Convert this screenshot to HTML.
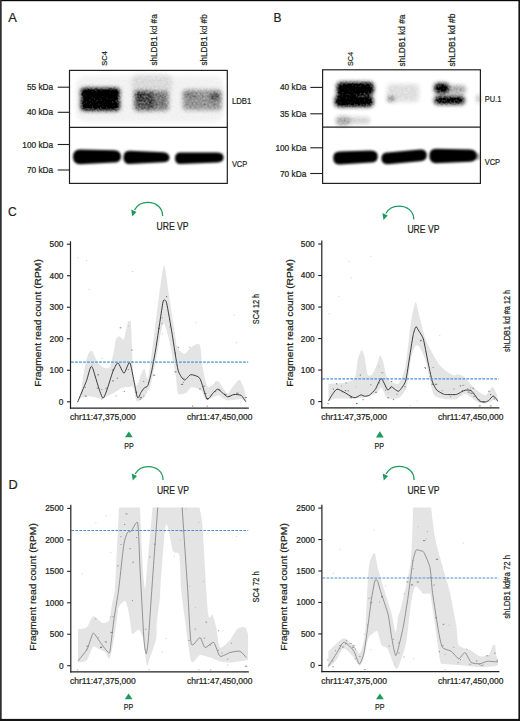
<!DOCTYPE html>
<html><head><meta charset="utf-8"><title>Figure</title>
<style>html,body{margin:0;padding:0;background:#fff;width:520px;height:721px;overflow:hidden}
svg text{font-family:"Liberation Sans", sans-serif}</style></head>
<body>
<svg width="520" height="721" viewBox="0 0 520 721" style="display:block;font-family:'Liberation Sans', sans-serif"><defs>
<filter id="b1" x="-30%" y="-60%" width="160%" height="220%"><feGaussianBlur stdDeviation="1.6"/></filter>
<filter id="b2" x="-30%" y="-60%" width="160%" height="220%"><feGaussianBlur stdDeviation="0.9"/></filter>
<filter id="b3" x="-30%" y="-60%" width="160%" height="220%"><feGaussianBlur stdDeviation="2.4"/></filter>
<filter id="g1" x="-30%" y="-60%" width="160%" height="220%" color-interpolation-filters="sRGB">
  <feGaussianBlur in="SourceGraphic" stdDeviation="2.0" result="b"/>
  <feTurbulence type="fractalNoise" baseFrequency="0.5" numOctaves="2" seed="7" result="n"/>
  <feColorMatrix in="n" type="matrix" values="0 0 0 0 0  0 0 0 0 0  0 0 0 0 0  1.1 0 0 0 -0.3" result="na"/>
  <feComposite in="b" in2="na" operator="arithmetic" k1="1.0" k2="0.97" k3="0" k4="0" result="c"/>
  <feGaussianBlur in="c" stdDeviation="0.45"/>
</filter>
<clipPath id="cp1"><rect x="70.5" y="241.3" width="178.3" height="166.89999999999998"/></clipPath><clipPath id="cp2"><rect x="321.8" y="240.6" width="177.59999999999997" height="167.29999999999998"/></clipPath><clipPath id="cp3"><rect x="70.8" y="507.5" width="178.0" height="164.29999999999995"/></clipPath><clipPath id="cp4"><rect x="321.9" y="507.5" width="177.5" height="164.10000000000002"/></clipPath></defs><rect width="520" height="721" fill="#fff"/><rect x="0" y="0" width="520" height="1.2" fill="#080808"/>
<rect x="0" y="0" width="1.7" height="721" fill="#2e2e2e"/>
<rect x="518.4" y="0" width="1.6" height="721" fill="#141414"/>
<rect x="0" y="718.9" width="520" height="2.1" fill="#141414"/>
<text x="8.3" y="21.7" font-size="13.5" text-anchor="start" fill="#231f20" textLength="8.6" lengthAdjust="spacingAndGlyphs" stroke="#231f20" stroke-width="0.22">A</text>
<text x="273.6" y="21.7" font-size="13.5" text-anchor="start" fill="#231f20" textLength="8.0" lengthAdjust="spacingAndGlyphs" stroke="#231f20" stroke-width="0.22">B</text>
<text x="8.1" y="216.3" font-size="13.5" text-anchor="start" fill="#231f20" textLength="8.6" lengthAdjust="spacingAndGlyphs" stroke="#231f20" stroke-width="0.22">C</text>
<text x="8.6" y="489.4" font-size="13.5" text-anchor="start" fill="#231f20" textLength="9.2" lengthAdjust="spacingAndGlyphs" stroke="#231f20" stroke-width="0.22">D</text>
<g filter="url(#g1)" fill="#000"><rect x="76" y="76" width="148" height="46" rx="10" opacity="0.045"/><rect x="132" y="74" width="40" height="20" rx="6" opacity="0.08"/><rect x="81" y="88.5" width="38.5" height="9" rx="3" opacity="1"/><rect x="81" y="97" width="38.5" height="13" rx="3" opacity="0.85"/><rect x="81" y="103" width="38.5" height="7.5" rx="3" opacity="0.6"/><rect x="134.5" y="91" width="18" height="19.5" rx="3" opacity="0.52"/><rect x="150" y="91.5" width="18.5" height="19" rx="3" opacity="0.40"/><rect x="135.5" y="91.5" width="9" height="9" rx="3" opacity="0.25"/><rect x="183" y="90" width="38.5" height="20" rx="3" opacity="0.31"/><rect x="183" y="91" width="14" height="8" rx="3" opacity="0.1"/><rect x="210" y="92.5" width="10" height="8" rx="3" opacity="0.3"/></g>
<g filter="url(#b2)" fill="#000"><path d="M80 149.4 L114 150.2 Q121 150.6 121 156.5 Q121 162.6 114 162.6 L80 164.2 Q73 164.2 73 157 Q73 149.4 80 149.4 Z"/><path d="M129.5 150.8 L163 152.2 Q169.5 152.8 169.5 157.8 Q169.5 162.2 163 162.2 L129.5 164.0 Q123.4 164.0 123.4 157.4 Q123.4 150.8 129.5 150.8 Z"/><path d="M180.5 152.4 L217.5 152.6 Q223.6 152.8 223.6 157.6 Q223.6 162.4 217.5 162.4 L180.5 164.0 Q175 164.0 175 158.2 Q175 152.4 180.5 152.4 Z"/></g>
<rect x="69.5" y="70.4" width="157.8" height="113.0" fill="none" stroke="#231f20" stroke-width="1.2"/>
<line x1="69.5" y1="127.3" x2="227.3" y2="127.3" stroke="#231f20" stroke-width="1.2"/>
<line x1="57.7" y1="87.2" x2="69.5" y2="87.2" stroke="#231f20" stroke-width="1.1"/>
<text x="53.2" y="90.2" font-size="8.3" text-anchor="end" fill="#231f20" stroke="#231f20" stroke-width="0.22">55 kDa</text>
<line x1="57.7" y1="112.3" x2="69.5" y2="112.3" stroke="#231f20" stroke-width="1.1"/>
<text x="53.2" y="115.3" font-size="8.3" text-anchor="end" fill="#231f20" stroke="#231f20" stroke-width="0.22">40 kDa</text>
<line x1="57.7" y1="144.5" x2="69.5" y2="144.5" stroke="#231f20" stroke-width="1.1"/>
<text x="53.2" y="147.5" font-size="8.3" text-anchor="end" fill="#231f20" stroke="#231f20" stroke-width="0.22">100 kDa</text>
<line x1="57.7" y1="170.0" x2="69.5" y2="170.0" stroke="#231f20" stroke-width="1.1"/>
<text x="53.2" y="173.0" font-size="8.3" text-anchor="end" fill="#231f20" stroke="#231f20" stroke-width="0.22">70 kDa</text>
<text x="231.9" y="104.3" font-size="8.8" text-anchor="start" fill="#231f20" textLength="19.3" lengthAdjust="spacingAndGlyphs" stroke="#231f20" stroke-width="0.22">LDB1</text>
<text x="231.9" y="166.9" font-size="8.8" text-anchor="start" fill="#231f20" textLength="15.3" lengthAdjust="spacingAndGlyphs" stroke="#231f20" stroke-width="0.22">VCP</text>
<text transform="translate(106.6,65.7) rotate(-90)" font-size="7.8" text-anchor="start" fill="#231f20" textLength="14.5" lengthAdjust="spacingAndGlyphs" stroke="#231f20" stroke-width="0.22">SC4</text>
<text transform="translate(156.8,65.6) rotate(-90)" font-size="8.6" text-anchor="start" fill="#231f20" textLength="51.3" lengthAdjust="spacingAndGlyphs" stroke="#231f20" stroke-width="0.22">shLDB1 kd #a</text>
<text transform="translate(207.3,65.6) rotate(-90)" font-size="8.6" text-anchor="start" fill="#231f20" textLength="51.3" lengthAdjust="spacingAndGlyphs" stroke="#231f20" stroke-width="0.22">shLDB1 kd #b</text>
<g filter="url(#g1)" fill="#000"><rect x="337" y="82.5" width="36.5" height="12" rx="4" opacity="0.95"/><rect x="335" y="96" width="38" height="10.5" rx="4" opacity="0.95"/><rect x="337" y="93" width="20" height="4" rx="2" opacity="0.6"/><rect x="336" y="116.5" width="14" height="9" rx="4" opacity="0.28"/><rect x="348" y="117" width="22" height="7" rx="3" opacity="0.14"/><rect x="387" y="84" width="32" height="18" rx="4" opacity="0.10"/><rect x="387.5" y="97" width="7" height="4" rx="2" opacity="0.45"/><rect x="434.5" y="83.5" width="14" height="9.5" rx="4" opacity="0.92"/><rect x="447" y="85.5" width="19" height="8" rx="4" opacity="0.28"/><rect x="434.5" y="96.5" width="30" height="7.5" rx="3.5" opacity="0.9"/><rect x="477" y="95" width="3" height="7" rx="1.5" opacity="0.3"/></g>
<g filter="url(#b2)" fill="#000"><path d="M340 151.6 L371 150.6 Q377.8 150.8 377.8 156.5 Q377.8 162.4 371 162.6 L340 164.6 Q333.2 164.6 333.2 158 Q333.2 151.6 340 151.6 Z"/><path d="M388 152.4 L420 149.4 Q426.8 149.2 426.8 155 Q426.8 160.8 420 161.2 L388 164.2 Q381.4 164.2 381.4 158.2 Q381.4 152.4 388 152.4 Z"/><path d="M436 148.8 L470 149.4 Q476.8 149.8 476.8 155.6 Q476.8 161.6 470 161.8 L436 163.2 Q429.4 163.0 429.4 156 Q429.4 148.8 436 148.8 Z"/><rect x="474" y="153" width="6" height="7" rx="3" opacity="0.35"/></g>
<rect x="322.6" y="69.8" width="157.79999999999995" height="113.60000000000001" fill="none" stroke="#231f20" stroke-width="1.2"/>
<line x1="322.6" y1="127.2" x2="480.4" y2="127.2" stroke="#231f20" stroke-width="1.2"/>
<line x1="310.3" y1="87.4" x2="322.6" y2="87.4" stroke="#231f20" stroke-width="1.1"/>
<text x="306.3" y="90.4" font-size="8.3" text-anchor="end" fill="#231f20" stroke="#231f20" stroke-width="0.22">40 kDa</text>
<line x1="310.3" y1="113.8" x2="322.6" y2="113.8" stroke="#231f20" stroke-width="1.1"/>
<text x="306.3" y="116.8" font-size="8.3" text-anchor="end" fill="#231f20" stroke="#231f20" stroke-width="0.22">35 kDa</text>
<line x1="310.3" y1="147.8" x2="322.6" y2="147.8" stroke="#231f20" stroke-width="1.1"/>
<text x="306.3" y="150.8" font-size="8.3" text-anchor="end" fill="#231f20" stroke="#231f20" stroke-width="0.22">100 kDa</text>
<line x1="310.3" y1="173.5" x2="322.6" y2="173.5" stroke="#231f20" stroke-width="1.1"/>
<text x="306.3" y="176.5" font-size="8.3" text-anchor="end" fill="#231f20" stroke="#231f20" stroke-width="0.22">70 kDa</text>
<text x="484.7" y="101.6" font-size="8.8" text-anchor="start" fill="#231f20" textLength="16.6" lengthAdjust="spacingAndGlyphs" stroke="#231f20" stroke-width="0.22">PU.1</text>
<text x="484.7" y="164.7" font-size="8.8" text-anchor="start" fill="#231f20" textLength="15.3" lengthAdjust="spacingAndGlyphs" stroke="#231f20" stroke-width="0.22">VCP</text>
<text transform="translate(353.4,66.0) rotate(-90)" font-size="7.8" text-anchor="start" fill="#231f20" textLength="14.0" lengthAdjust="spacingAndGlyphs" stroke="#231f20" stroke-width="0.22">SC4</text>
<text transform="translate(404.7,66.6) rotate(-90)" font-size="8.6" text-anchor="start" fill="#231f20" textLength="52.0" lengthAdjust="spacingAndGlyphs" stroke="#231f20" stroke-width="0.22">shLDB1 kd #a</text>
<text transform="translate(455.0,66.6) rotate(-90)" font-size="8.6" text-anchor="start" fill="#231f20" textLength="53.0" lengthAdjust="spacingAndGlyphs" stroke="#231f20" stroke-width="0.22">shLDB1 kd #b</text>
<g clip-path="url(#cp1)">
<path d="M77.30 402.10 C77.70 400.97 79.85 396.35 80.70 392.40 C81.55 388.44 83.70 372.73 84.60 368.20 C85.50 363.67 87.50 355.58 88.40 353.60 C89.30 351.62 91.39 350.52 92.30 351.20 C93.21 351.88 95.29 357.77 96.20 359.40 C97.11 361.03 99.19 364.23 100.10 365.20 C101.01 366.17 102.98 367.35 104.00 367.70 C105.02 368.05 108.01 368.60 108.80 368.20 C109.59 367.80 110.34 365.67 110.80 364.30 C111.25 362.94 112.30 358.20 112.70 356.50 C113.10 354.80 113.84 351.65 114.20 349.70 C114.56 347.75 115.30 341.35 115.80 339.80 C116.30 338.25 117.88 336.63 118.50 336.40 C119.12 336.17 120.46 337.51 121.10 337.80 C121.74 338.09 123.22 340.72 124.00 338.90 C124.78 337.08 127.10 324.28 127.80 322.20 C128.50 320.12 129.62 320.70 130.00 321.10 C130.38 321.50 130.72 319.38 131.10 325.60 C131.48 331.82 132.65 367.40 133.30 374.40 C133.95 381.40 135.79 385.60 136.70 385.60 C137.61 385.60 140.20 376.35 141.10 374.40 C142.00 372.45 143.62 368.38 144.40 368.90 C145.18 369.42 146.89 381.10 147.80 378.90 C148.71 376.69 151.03 358.55 152.20 350.00 C153.37 341.45 156.42 315.45 157.80 305.60 C159.18 295.75 162.71 266.91 164.00 265.60 C165.29 264.29 167.69 286.89 168.90 294.40 C170.11 301.91 173.43 323.90 174.40 330.00 C175.37 336.10 176.03 343.91 177.20 346.70 C178.37 349.49 182.72 353.90 184.40 353.90 C186.08 353.90 189.80 347.75 191.60 346.70 C193.40 345.65 198.53 342.59 199.80 344.90 C201.07 347.21 201.56 361.55 202.50 366.50 C203.44 371.45 206.12 385.61 207.90 387.30 C209.69 388.99 216.02 380.89 217.80 381.00 C219.59 381.11 222.04 386.73 223.20 388.20 C224.35 389.67 226.54 393.81 227.70 393.60 C228.85 393.39 231.73 387.97 233.10 386.40 C234.47 384.82 238.14 379.89 239.40 380.10 C240.66 380.31 243.06 385.78 243.90 388.20 C244.74 390.62 246.28 399.33 246.60 400.80 L246.60 402.60 C246.07 402.18 243.67 399.31 242.10 399.00 C240.53 398.69 234.99 399.79 233.10 399.90 C231.21 400.00 227.58 400.42 225.90 399.90 C224.22 399.38 220.17 395.71 218.70 395.40 C217.23 395.08 214.77 396.68 213.30 397.20 C211.83 397.72 207.57 400.74 206.10 399.90 C204.63 399.06 202.39 391.47 200.70 390.00 C199.01 388.53 193.29 386.99 191.60 387.30 C189.91 387.62 187.77 391.96 186.20 392.70 C184.62 393.44 179.34 395.74 178.10 393.60 C176.86 391.47 176.67 380.78 175.60 374.40 C174.53 368.02 170.34 344.86 168.90 338.90 C167.47 332.94 164.59 322.00 163.30 323.30 C162.01 324.60 159.22 343.00 157.80 350.00 C156.38 357.00 152.66 377.85 151.10 383.30 C149.54 388.75 146.08 394.62 144.40 396.70 C142.72 398.78 137.99 402.23 136.70 401.10 C135.41 399.97 134.13 388.64 133.30 387.00 C132.47 385.36 130.89 386.88 129.60 387.00 C128.31 387.12 123.94 387.37 122.20 388.00 C120.46 388.63 116.03 391.65 114.70 392.40 C113.37 393.15 111.71 393.94 110.80 394.40 C109.89 394.85 107.81 395.74 106.90 396.30 C105.99 396.86 103.79 398.97 103.00 399.20 C102.21 399.43 101.01 398.52 100.10 398.30 C99.19 398.08 96.45 397.53 95.20 397.30 C93.95 397.07 90.64 396.36 89.40 396.30 C88.16 396.24 85.61 396.57 84.60 396.80 C83.58 397.03 81.55 397.68 80.70 398.30 C79.85 398.92 77.70 401.66 77.30 402.10 Z" fill="#e4e4e4"/>
<rect x="77.6" y="257.2" width="1" height="1" fill="#777" opacity="0.35"/>
<rect x="81.6" y="393.1" width="1" height="1" fill="#777" opacity="0.35"/>
<rect x="84.9" y="395.6" width="1.6" height="1.0" fill="#333" opacity="0.71"/>
<rect x="84.8" y="387.1" width="0.9" height="1.0" fill="#333" opacity="0.62"/>
<rect x="86.0" y="260.2" width="1" height="1" fill="#777" opacity="0.35"/>
<rect x="88.5" y="288.8" width="1" height="1" fill="#777" opacity="0.35"/>
<rect x="91.7" y="364.5" width="0.9" height="1.0" fill="#333" opacity="0.37"/>
<rect x="96.7" y="387.7" width="1.2" height="1.0" fill="#333" opacity="0.62"/>
<rect x="97.4" y="374.3" width="1.6" height="1.0" fill="#333" opacity="0.65"/>
<rect x="101.1" y="398.5" width="1.2" height="1.0" fill="#333" opacity="0.40"/>
<rect x="101.4" y="389.0" width="0.9" height="1.0" fill="#333" opacity="0.52"/>
<rect x="101.6" y="357.9" width="1" height="1" fill="#777" opacity="0.35"/>
<rect x="105.3" y="387.7" width="1.6" height="1.0" fill="#333" opacity="0.51"/>
<rect x="112.2" y="380.4" width="1.6" height="1.0" fill="#333" opacity="0.68"/>
<rect x="111.9" y="369.5" width="2.2" height="1.0" fill="#333" opacity="0.59"/>
<rect x="116.8" y="377.7" width="1.0" height="1.0" fill="#333" opacity="0.69"/>
<rect x="115.7" y="395.5" width="0.9" height="1.0" fill="#333" opacity="0.49"/>
<rect x="119.7" y="327.3" width="1.6" height="1.0" fill="#333" opacity="0.66"/>
<rect x="123.8" y="391.0" width="0.9" height="1.0" fill="#333" opacity="0.65"/>
<rect x="127.8" y="369.1" width="0.9" height="1.0" fill="#333" opacity="0.70"/>
<rect x="128.1" y="325.3" width="1" height="1" fill="#777" opacity="0.35"/>
<rect x="132.0" y="361.3" width="0.9" height="1.0" fill="#333" opacity="0.63"/>
<rect x="131.0" y="349.6" width="2.2" height="1.0" fill="#333" opacity="0.37"/>
<rect x="132.1" y="271.0" width="1" height="1" fill="#777" opacity="0.35"/>
<rect x="135.6" y="391.7" width="1.6" height="1.0" fill="#333" opacity="0.71"/>
<rect x="139.8" y="397.2" width="2.2" height="1.0" fill="#333" opacity="0.71"/>
<rect x="139.6" y="398.8" width="0.9" height="1.0" fill="#333" opacity="0.70"/>
<rect x="143.2" y="395.5" width="1.2" height="1.0" fill="#333" opacity="0.44"/>
<rect x="143.2" y="380.9" width="1.0" height="1.0" fill="#333" opacity="0.59"/>
<rect x="148.1" y="382.2" width="0.9" height="1.0" fill="#333" opacity="0.55"/>
<rect x="153.0" y="374.7" width="2.2" height="1.0" fill="#333" opacity="0.65"/>
<rect x="158.2" y="327.9" width="1.6" height="1.0" fill="#333" opacity="0.63"/>
<rect x="161.8" y="317.3" width="0.9" height="1.0" fill="#333" opacity="0.48"/>
<rect x="161.5" y="323.3" width="1.0" height="1.0" fill="#333" opacity="0.55"/>
<rect x="161.9" y="333.5" width="1" height="1" fill="#777" opacity="0.35"/>
<rect x="166.0" y="296.2" width="1.2" height="1.0" fill="#333" opacity="0.71"/>
<rect x="169.2" y="326.5" width="1.0" height="1.0" fill="#333" opacity="0.36"/>
<rect x="174.3" y="371.4" width="2.2" height="1.0" fill="#333" opacity="0.57"/>
<rect x="174.8" y="352.7" width="1.2" height="1.0" fill="#333" opacity="0.66"/>
<rect x="177.8" y="346.9" width="1.0" height="1.0" fill="#333" opacity="0.67"/>
<rect x="180.9" y="383.9" width="2.2" height="1.0" fill="#333" opacity="0.64"/>
<rect x="182.9" y="381.9" width="1.0" height="1.0" fill="#333" opacity="0.47"/>
<rect x="183.5" y="377.7" width="1.2" height="1.0" fill="#333" opacity="0.47"/>
<rect x="188.8" y="346.7" width="0.9" height="1.0" fill="#333" opacity="0.45"/>
<rect x="192.1" y="405.6" width="1.0" height="1.0" fill="#333" opacity="0.69"/>
<rect x="195.3" y="322.2" width="1" height="1" fill="#777" opacity="0.35"/>
<rect x="199.2" y="388.5" width="1.6" height="1.0" fill="#333" opacity="0.56"/>
<rect x="202.9" y="385.7" width="2.2" height="1.0" fill="#333" opacity="0.51"/>
<rect x="204.2" y="392.9" width="2.2" height="1.0" fill="#333" opacity="0.61"/>
<rect x="206.5" y="405.7" width="1.6" height="1.0" fill="#333" opacity="0.45"/>
<rect x="206.5" y="398.1" width="2.2" height="1.0" fill="#333" opacity="0.70"/>
<rect x="206.8" y="362.9" width="1" height="1" fill="#777" opacity="0.35"/>
<rect x="213.9" y="391.1" width="2.2" height="1.0" fill="#333" opacity="0.51"/>
<rect x="215.2" y="381.6" width="1" height="1" fill="#777" opacity="0.35"/>
<rect x="218.2" y="389.4" width="2.2" height="1.0" fill="#333" opacity="0.55"/>
<rect x="224.4" y="393.9" width="2.2" height="1.0" fill="#333" opacity="0.51"/>
<rect x="224.1" y="393.6" width="1.0" height="1.0" fill="#333" opacity="0.52"/>
<rect x="229.0" y="396.1" width="1.2" height="1.0" fill="#333" opacity="0.38"/>
<rect x="233.7" y="314.6" width="1" height="1" fill="#777" opacity="0.35"/>
<rect x="236.3" y="392.7" width="2.2" height="1.0" fill="#333" opacity="0.68"/>
<rect x="236.1" y="342.2" width="1" height="1" fill="#777" opacity="0.35"/>
<rect x="244.8" y="397.0" width="2.2" height="1.0" fill="#333" opacity="0.50"/>
<path d="M77.60 402.10 C78.49 399.97 85.27 384.10 86.50 380.80 C87.73 377.50 89.30 370.41 89.90 369.10 C90.50 367.79 91.19 364.80 92.50 367.70 C93.81 370.60 100.98 397.67 103.00 398.10 C105.02 398.53 111.21 375.52 112.70 372.00 C114.19 368.48 116.77 362.77 117.90 362.90 C119.03 363.03 122.79 373.30 124.00 373.30 C125.21 373.30 128.67 360.52 130.00 362.90 C131.33 365.28 136.19 394.17 137.30 397.10 C138.41 400.03 140.39 393.13 141.10 392.20 C141.81 391.27 143.73 388.46 144.40 387.80 C145.07 387.14 147.09 387.18 147.80 385.60 C148.51 384.02 150.72 375.56 151.50 372.00 C152.28 368.44 154.75 355.09 155.60 350.00 C156.45 344.91 159.26 325.90 160.00 321.10 C160.74 316.30 162.56 304.11 163.00 302.00 C163.44 299.89 164.03 299.87 164.40 300.00 C164.77 300.13 165.92 299.86 166.70 303.30 C167.48 306.74 171.06 327.71 172.20 334.40 C173.34 341.09 176.88 365.63 178.10 370.20 C179.32 374.77 183.14 379.65 184.40 380.10 C185.66 380.55 189.16 374.88 190.70 374.70 C192.24 374.52 198.17 375.87 199.80 378.30 C201.43 380.73 205.65 397.56 207.00 399.00 C208.35 400.44 212.22 393.69 213.30 392.70 C214.38 391.71 216.90 389.10 217.80 389.10 C218.70 389.10 221.31 391.93 222.30 392.70 C223.29 393.47 226.53 396.62 227.70 396.80 C228.87 396.98 232.65 394.64 234.00 394.50 C235.35 394.36 240.03 394.68 241.20 395.40 C242.37 396.12 245.25 401.07 245.70 401.70" fill="none" stroke="#282828" stroke-width="0.9" stroke-linejoin="round"/>
</g>
<line x1="71.1" y1="362.2" x2="248.20000000000002" y2="362.2" stroke="#4a90d8" stroke-width="1.2" stroke-dasharray="2.7 1.3"/>
<line x1="70.5" y1="241.3" x2="70.5" y2="408.8" stroke="#231f20" stroke-width="1.2"/>
<line x1="69.9" y1="408.2" x2="248.8" y2="408.2" stroke="#231f20" stroke-width="1.3"/>
<line x1="66.9" y1="244.20000000000002" x2="70.5" y2="244.20000000000002" stroke="#231f20" stroke-width="1.1"/>
<text x="63.4" y="247.15" font-size="8.3" text-anchor="end" fill="#231f20" stroke="#231f20" stroke-width="0.22">500</text>
<line x1="66.9" y1="275.72" x2="70.5" y2="275.72" stroke="#231f20" stroke-width="1.1"/>
<text x="63.4" y="278.67" font-size="8.3" text-anchor="end" fill="#231f20" stroke="#231f20" stroke-width="0.22">400</text>
<line x1="66.9" y1="307.24" x2="70.5" y2="307.24" stroke="#231f20" stroke-width="1.1"/>
<text x="63.4" y="310.19" font-size="8.3" text-anchor="end" fill="#231f20" stroke="#231f20" stroke-width="0.22">300</text>
<line x1="66.9" y1="338.76" x2="70.5" y2="338.76" stroke="#231f20" stroke-width="1.1"/>
<text x="63.4" y="341.71" font-size="8.3" text-anchor="end" fill="#231f20" stroke="#231f20" stroke-width="0.22">200</text>
<line x1="66.9" y1="370.28000000000003" x2="70.5" y2="370.28000000000003" stroke="#231f20" stroke-width="1.1"/>
<text x="63.4" y="373.23" font-size="8.3" text-anchor="end" fill="#231f20" stroke="#231f20" stroke-width="0.22">100</text>
<line x1="66.9" y1="401.8" x2="70.5" y2="401.8" stroke="#231f20" stroke-width="1.1"/>
<text x="63.4" y="404.75" font-size="8.3" text-anchor="end" fill="#231f20" stroke="#231f20" stroke-width="0.22">0</text>
<text transform="translate(41.2,386.8) rotate(-90)" font-size="9.5" text-anchor="start" fill="#231f20" textLength="127.6" lengthAdjust="spacingAndGlyphs" stroke="#231f20" stroke-width="0.22">Fragment read count (RPM)</text>
<g clip-path="url(#cp2)">
<path d="M328.50 383.80 C330.20 383.72 340.06 383.72 343.10 383.10 C346.15 382.48 352.90 381.19 354.60 378.50 C356.30 375.81 356.89 363.32 357.70 360.00 C358.50 356.68 360.69 350.36 361.50 350.00 C362.31 349.64 363.88 354.03 364.60 356.90 C365.32 359.77 366.80 372.54 367.70 374.60 C368.60 376.67 371.23 375.77 372.30 374.60 C373.37 373.43 376.00 366.84 376.90 364.60 C377.80 362.36 379.28 355.76 380.00 355.40 C380.72 355.04 382.38 359.17 383.10 361.50 C383.82 363.83 385.30 373.07 386.20 375.40 C387.10 377.73 389.32 380.58 390.80 381.50 C392.28 382.42 397.17 385.16 398.90 383.30 C400.63 381.44 404.18 372.86 405.60 365.60 C407.02 358.34 409.93 328.50 411.10 321.10 C412.27 313.70 414.69 302.98 415.60 302.20 C416.51 301.42 417.73 310.12 418.90 314.40 C420.07 318.68 423.79 333.96 425.60 338.90 C427.41 343.83 432.72 353.58 434.40 356.70 C436.08 359.81 438.56 363.86 440.00 365.60 C441.44 367.34 445.12 370.47 446.70 371.60 C448.27 372.73 452.09 374.99 453.50 375.30 C454.91 375.62 457.55 374.10 458.80 374.30 C460.05 374.50 462.78 375.82 464.20 377.00 C465.62 378.18 469.43 382.75 471.00 384.40 C472.57 386.04 475.97 389.84 477.70 391.10 C479.43 392.36 484.07 395.67 485.80 395.20 C487.53 394.73 491.25 387.26 492.50 387.10 C493.75 386.94 495.85 392.16 496.50 393.80 C497.15 395.44 497.91 400.34 498.10 401.20 L498.10 402.20 C497.60 401.93 494.92 399.85 493.80 399.90 C492.68 399.95 490.06 402.20 488.50 402.60 C486.94 403.00 481.97 403.53 480.40 403.30 C478.82 403.07 476.26 401.39 475.00 400.60 C473.74 399.81 470.86 397.29 469.60 396.50 C468.34 395.71 465.76 393.49 464.20 393.80 C462.64 394.12 458.08 398.57 456.20 399.20 C454.32 399.83 449.61 399.24 448.10 399.20 C446.60 399.16 444.90 399.32 443.30 398.90 C441.70 398.48 435.95 397.68 434.40 395.60 C432.85 393.52 431.03 385.12 430.00 381.10 C428.97 377.08 426.77 364.99 425.60 361.10 C424.43 357.22 421.17 349.59 420.00 347.80 C418.83 346.01 416.64 344.61 415.60 345.80 C414.56 346.99 412.14 353.23 411.10 358.00 C410.06 362.77 408.12 382.06 406.70 386.70 C405.28 391.34 401.12 396.42 398.90 397.80 C396.68 399.18 389.73 399.68 387.70 398.50 C385.67 397.32 382.94 388.25 381.50 387.70 C380.06 387.15 377.19 392.73 375.40 393.80 C373.61 394.87 368.72 396.35 366.20 396.90 C363.68 397.45 357.39 398.31 353.80 398.50 C350.21 398.69 338.35 398.15 335.40 398.50 C332.45 398.85 329.31 401.15 328.50 401.50 Z" fill="#e4e4e4"/>
<rect x="327.3" y="403.2" width="1.6" height="1.0" fill="#333" opacity="0.52"/>
<rect x="328.5" y="313.2" width="1" height="1" fill="#777" opacity="0.35"/>
<rect x="332.9" y="388.6" width="1.0" height="1.0" fill="#333" opacity="0.71"/>
<rect x="336.1" y="383.3" width="1.2" height="1.0" fill="#333" opacity="0.69"/>
<rect x="337.1" y="388.8" width="1.0" height="1.0" fill="#333" opacity="0.63"/>
<rect x="338.4" y="296.1" width="1" height="1" fill="#777" opacity="0.35"/>
<rect x="341.4" y="391.3" width="1.2" height="1.0" fill="#333" opacity="0.48"/>
<rect x="341.2" y="385.5" width="0.9" height="1.0" fill="#333" opacity="0.45"/>
<rect x="344.9" y="390.1" width="1.2" height="1.0" fill="#333" opacity="0.72"/>
<rect x="345.5" y="382.5" width="1.2" height="1.0" fill="#333" opacity="0.55"/>
<rect x="347.4" y="390.4" width="1.6" height="1.0" fill="#333" opacity="0.47"/>
<rect x="348.6" y="260.9" width="1" height="1" fill="#777" opacity="0.35"/>
<rect x="350.4" y="397.3" width="1.6" height="1.0" fill="#333" opacity="0.67"/>
<rect x="349.8" y="396.4" width="1.0" height="1.0" fill="#333" opacity="0.75"/>
<rect x="350.8" y="277.4" width="1" height="1" fill="#777" opacity="0.35"/>
<rect x="355.9" y="403.0" width="1.6" height="1.0" fill="#333" opacity="0.75"/>
<rect x="355.7" y="386.3" width="1" height="1" fill="#777" opacity="0.35"/>
<rect x="359.8" y="374.6" width="1.2" height="1.0" fill="#333" opacity="0.63"/>
<rect x="362.6" y="399.2" width="1.2" height="1.0" fill="#333" opacity="0.60"/>
<rect x="362.5" y="395.1" width="1" height="1" fill="#777" opacity="0.35"/>
<rect x="370.3" y="384.3" width="1.2" height="1.0" fill="#333" opacity="0.50"/>
<rect x="370.5" y="255.8" width="1" height="1" fill="#777" opacity="0.35"/>
<rect x="374.9" y="391.8" width="2.2" height="1.0" fill="#333" opacity="0.50"/>
<rect x="378.5" y="382.3" width="1.2" height="1.0" fill="#333" opacity="0.66"/>
<rect x="378.5" y="366.2" width="1" height="1" fill="#777" opacity="0.35"/>
<rect x="381.2" y="372.2" width="2.2" height="1.0" fill="#333" opacity="0.36"/>
<rect x="385.1" y="389.6" width="1.0" height="1.0" fill="#333" opacity="0.64"/>
<rect x="384.9" y="386.3" width="0.9" height="1.0" fill="#333" opacity="0.42"/>
<rect x="387.5" y="397.2" width="1.2" height="1.0" fill="#333" opacity="0.69"/>
<rect x="388.3" y="392.1" width="1" height="1" fill="#777" opacity="0.35"/>
<rect x="390.0" y="387.4" width="1.2" height="1.0" fill="#333" opacity="0.69"/>
<rect x="391.2" y="381.0" width="1.0" height="1.0" fill="#333" opacity="0.75"/>
<rect x="392.9" y="399.1" width="1.2" height="1.0" fill="#333" opacity="0.65"/>
<rect x="396.5" y="393.8" width="0.9" height="1.0" fill="#333" opacity="0.58"/>
<rect x="404.2" y="386.2" width="1.6" height="1.0" fill="#333" opacity="0.45"/>
<rect x="409.5" y="404.9" width="1" height="1" fill="#777" opacity="0.35"/>
<rect x="416.7" y="400.6" width="1" height="1" fill="#777" opacity="0.35"/>
<rect x="420.0" y="339.8" width="2.2" height="1.0" fill="#333" opacity="0.40"/>
<rect x="420.3" y="340.4" width="1.0" height="1.0" fill="#333" opacity="0.70"/>
<rect x="425.0" y="367.7" width="1.0" height="1.0" fill="#333" opacity="0.74"/>
<rect x="424.4" y="367.1" width="1.0" height="1.0" fill="#333" opacity="0.68"/>
<rect x="429.3" y="375.8" width="1" height="1" fill="#777" opacity="0.35"/>
<rect x="432.7" y="367.0" width="0.9" height="1.0" fill="#333" opacity="0.57"/>
<rect x="431.6" y="383.7" width="2.2" height="1.0" fill="#333" opacity="0.64"/>
<rect x="435.0" y="383.8" width="2.2" height="1.0" fill="#333" opacity="0.62"/>
<rect x="439.3" y="335.1" width="1" height="1" fill="#777" opacity="0.35"/>
<rect x="441.8" y="390.2" width="0.9" height="1.0" fill="#333" opacity="0.52"/>
<rect x="450.0" y="396.1" width="1.0" height="1.0" fill="#333" opacity="0.42"/>
<rect x="453.4" y="388.6" width="1.0" height="1.0" fill="#333" opacity="0.57"/>
<rect x="459.8" y="385.4" width="1.2" height="1.0" fill="#333" opacity="0.70"/>
<rect x="460.0" y="394.5" width="1" height="1" fill="#777" opacity="0.35"/>
<rect x="462.2" y="384.8" width="2.2" height="1.0" fill="#333" opacity="0.39"/>
<rect x="461.8" y="390.3" width="1.2" height="1.0" fill="#333" opacity="0.69"/>
<rect x="467.3" y="388.1" width="0.9" height="1.0" fill="#333" opacity="0.57"/>
<rect x="467.7" y="391.6" width="2.2" height="1.0" fill="#333" opacity="0.58"/>
<rect x="470.4" y="392.7" width="2.2" height="1.0" fill="#333" opacity="0.65"/>
<rect x="470.2" y="387.2" width="0.9" height="1.0" fill="#333" opacity="0.38"/>
<rect x="472.5" y="387.8" width="1.6" height="1.0" fill="#333" opacity="0.53"/>
<rect x="473.3" y="395.8" width="2.2" height="1.0" fill="#333" opacity="0.47"/>
<rect x="478.0" y="399.0" width="1.6" height="1.0" fill="#333" opacity="0.48"/>
<rect x="478.6" y="405.4" width="2.2" height="1.0" fill="#333" opacity="0.54"/>
<rect x="481.7" y="401.4" width="1.2" height="1.0" fill="#333" opacity="0.38"/>
<rect x="481.6" y="377.5" width="1" height="1" fill="#777" opacity="0.35"/>
<rect x="483.7" y="401.3" width="0.9" height="1.0" fill="#333" opacity="0.56"/>
<rect x="483.2" y="401.0" width="1.2" height="1.0" fill="#333" opacity="0.64"/>
<rect x="487.9" y="390.8" width="2.2" height="1.0" fill="#333" opacity="0.42"/>
<rect x="489.6" y="405.4" width="2.2" height="1.0" fill="#333" opacity="0.49"/>
<rect x="490.0" y="394.1" width="1.2" height="1.0" fill="#333" opacity="0.70"/>
<rect x="493.7" y="397.2" width="1.0" height="1.0" fill="#333" opacity="0.55"/>
<rect x="493.9" y="398.5" width="1.0" height="1.0" fill="#333" opacity="0.44"/>
<path d="M328.50 400.80 C329.37 399.64 334.67 389.51 337.20 389.20 C339.73 388.89 351.44 397.13 353.80 397.70 C356.16 398.27 359.72 395.05 360.80 394.90 C361.88 394.75 363.76 396.15 364.60 396.20 C365.44 396.25 368.12 396.10 369.20 395.40 C370.28 394.70 374.20 390.89 375.40 389.20 C376.60 387.51 379.97 378.42 381.20 378.50 C382.43 378.58 386.70 389.19 387.70 390.00 C388.70 390.81 390.53 386.71 391.20 386.60 C391.87 386.49 393.63 388.45 394.40 388.90 C395.17 389.35 397.78 391.88 398.90 391.10 C400.02 390.32 404.49 384.77 405.60 381.10 C406.71 377.43 409.23 359.07 410.00 354.40 C410.77 349.73 412.70 337.17 413.30 334.40 C413.90 331.63 415.44 327.03 416.00 326.70 C416.56 326.37 418.17 329.88 418.90 331.10 C419.63 332.32 422.41 335.90 423.30 338.90 C424.19 341.90 426.91 356.88 427.80 361.10 C428.69 365.32 431.31 378.21 432.20 381.10 C433.09 383.99 435.59 388.71 436.70 390.00 C437.81 391.29 442.43 393.55 443.30 394.00 C444.17 394.45 444.11 394.45 445.40 394.50 C446.69 394.55 454.59 394.77 456.20 394.50 C457.81 394.23 460.56 392.24 461.50 391.80 C462.44 391.36 464.65 390.23 465.60 390.10 C466.55 389.97 470.06 389.99 471.00 390.50 C471.94 391.01 474.20 394.19 475.00 395.20 C475.80 396.21 478.06 399.90 479.00 400.60 C479.94 401.30 483.45 402.20 484.40 402.20 C485.35 402.20 487.62 401.23 488.50 400.60 C489.38 399.97 492.40 396.04 493.20 395.90 C494.00 395.76 496.03 398.67 496.50 399.20 C496.97 399.73 497.76 401.00 497.90 401.20" fill="none" stroke="#282828" stroke-width="0.9" stroke-linejoin="round"/>
</g>
<line x1="322.40000000000003" y1="378.9" x2="498.79999999999995" y2="378.9" stroke="#4a90d8" stroke-width="1.2" stroke-dasharray="2.7 1.3"/>
<line x1="321.8" y1="240.6" x2="321.8" y2="408.5" stroke="#231f20" stroke-width="1.2"/>
<line x1="321.2" y1="407.9" x2="499.4" y2="407.9" stroke="#231f20" stroke-width="1.3"/>
<line x1="318.2" y1="244.0" x2="321.8" y2="244.0" stroke="#231f20" stroke-width="1.1"/>
<text x="314.7" y="246.95" font-size="8.3" text-anchor="end" fill="#231f20" stroke="#231f20" stroke-width="0.22">500</text>
<line x1="318.2" y1="275.52" x2="321.8" y2="275.52" stroke="#231f20" stroke-width="1.1"/>
<text x="314.7" y="278.46999999999997" font-size="8.3" text-anchor="end" fill="#231f20" stroke="#231f20" stroke-width="0.22">400</text>
<line x1="318.2" y1="307.03999999999996" x2="321.8" y2="307.03999999999996" stroke="#231f20" stroke-width="1.1"/>
<text x="314.7" y="309.98999999999995" font-size="8.3" text-anchor="end" fill="#231f20" stroke="#231f20" stroke-width="0.22">300</text>
<line x1="318.2" y1="338.55999999999995" x2="321.8" y2="338.55999999999995" stroke="#231f20" stroke-width="1.1"/>
<text x="314.7" y="341.50999999999993" font-size="8.3" text-anchor="end" fill="#231f20" stroke="#231f20" stroke-width="0.22">200</text>
<line x1="318.2" y1="370.08" x2="321.8" y2="370.08" stroke="#231f20" stroke-width="1.1"/>
<text x="314.7" y="373.03" font-size="8.3" text-anchor="end" fill="#231f20" stroke="#231f20" stroke-width="0.22">100</text>
<line x1="318.2" y1="401.59999999999997" x2="321.8" y2="401.59999999999997" stroke="#231f20" stroke-width="1.1"/>
<text x="314.7" y="404.54999999999995" font-size="8.3" text-anchor="end" fill="#231f20" stroke="#231f20" stroke-width="0.22">0</text>
<text transform="translate(292.5,386.8) rotate(-90)" font-size="9.5" text-anchor="start" fill="#231f20" textLength="127.6" lengthAdjust="spacingAndGlyphs" stroke="#231f20" stroke-width="0.22">Fragment read count (RPM)</text>
<g clip-path="url(#cp3)">
<path d="M78.00 629.30 C79.02 629.09 85.24 628.59 86.70 627.50 C88.16 626.41 89.70 621.32 90.50 620.00 C91.30 618.68 92.14 615.84 93.60 616.20 C95.06 616.56 101.18 622.66 103.00 623.10 C104.82 623.54 108.12 622.40 109.20 620.00 C110.28 617.60 111.65 606.00 112.30 602.50 C112.95 599.00 114.34 594.67 114.80 590.00 C115.26 585.33 115.76 572.12 116.25 562.50 C116.74 552.88 118.62 517.12 119.00 507.50 C119.38 497.88 117.11 483.21 119.50 480.00 C121.89 476.79 137.11 476.79 139.50 480.00 C141.89 483.21 139.59 497.00 140.00 507.50 C140.41 518.00 142.42 560.49 143.00 570.00 C143.58 579.51 144.54 589.00 145.00 589.00 C145.46 589.00 146.03 579.51 146.90 570.00 C147.78 560.49 151.79 518.00 152.50 507.50 C153.21 497.00 147.63 483.21 153.00 480.00 C158.37 476.79 193.06 476.79 198.50 480.00 C203.94 483.21 199.14 502.25 199.60 507.50 C200.06 512.75 201.42 512.75 202.40 525.00 C203.38 537.25 206.82 602.00 208.00 612.50 C209.18 623.00 211.54 613.25 212.50 615.00 C213.46 616.75 215.38 623.71 216.25 627.50 C217.12 631.29 218.40 646.04 220.00 647.50 C221.60 648.96 227.96 642.19 230.00 640.00 C232.04 637.81 235.75 630.21 237.50 628.75 C239.25 627.29 243.78 626.77 245.00 627.50 C246.22 628.23 247.65 631.50 248.00 635.00 C248.35 638.50 248.00 654.88 248.00 657.50 L248.00 660.00 C247.07 660.15 242.10 660.96 240.00 661.25 C237.90 661.54 232.33 662.50 230.00 662.50 C227.67 662.50 222.33 661.83 220.00 661.25 C217.67 660.67 212.33 658.23 210.00 657.50 C207.67 656.77 202.19 654.56 200.00 655.00 C197.81 655.44 193.00 665.33 191.25 661.25 C189.50 657.17 186.17 628.31 185.00 620.00 C183.83 611.69 181.86 597.60 181.20 590.00 C180.53 582.40 180.25 559.43 179.30 554.90 C178.36 550.37 174.65 554.77 173.10 551.20 C171.55 547.63 167.46 520.36 166.00 524.30 C164.54 528.24 161.30 576.46 160.60 585.00 C159.90 593.54 160.44 593.12 160.00 597.50 C159.56 601.88 157.24 617.69 156.80 622.50 C156.36 627.31 156.99 634.63 156.20 638.70 C155.41 642.77 151.09 654.33 150.00 657.40 C148.91 660.47 147.72 667.26 146.90 665.00 C146.08 662.74 143.97 642.12 143.00 638.00 C142.03 633.88 139.85 630.16 138.60 629.70 C137.35 629.25 133.26 634.84 132.30 634.10 C131.34 633.37 130.90 626.35 130.40 623.40 C129.90 620.45 128.63 611.40 128.00 608.80 C127.37 606.20 126.08 601.32 125.00 601.10 C123.92 600.88 119.67 604.55 118.70 606.90 C117.73 609.25 117.38 616.77 116.70 621.20 C116.02 625.63 113.78 640.52 112.90 644.90 C112.03 649.27 110.06 657.83 109.20 658.70 C108.34 659.58 106.67 653.50 105.50 652.40 C104.33 651.30 100.66 649.95 99.20 649.30 C97.74 648.65 94.46 645.49 93.00 646.80 C91.54 648.11 88.45 658.68 86.70 660.50 C84.95 662.32 79.02 662.18 78.00 662.40 Z" fill="#e4e4e4"/>
<rect x="77.2" y="669.3" width="1.0" height="1.0" fill="#555" opacity="0.59"/>
<rect x="82.0" y="573.4" width="1" height="1" fill="#777" opacity="0.35"/>
<rect x="86.5" y="648.8" width="0.9" height="1.0" fill="#555" opacity="0.43"/>
<rect x="86.4" y="645.7" width="2.2" height="1.0" fill="#555" opacity="0.67"/>
<rect x="95.4" y="618.4" width="0.9" height="1.0" fill="#555" opacity="0.70"/>
<rect x="95.4" y="522.4" width="1" height="1" fill="#777" opacity="0.35"/>
<rect x="98.1" y="637.0" width="1.0" height="1.0" fill="#555" opacity="0.41"/>
<rect x="100.0" y="646.9" width="2.2" height="1.0" fill="#555" opacity="0.66"/>
<rect x="100.5" y="646.6" width="1.2" height="1.0" fill="#555" opacity="0.62"/>
<rect x="105.9" y="641.5" width="1.0" height="1.0" fill="#555" opacity="0.67"/>
<rect x="104.6" y="641.4" width="1.6" height="1.0" fill="#555" opacity="0.50"/>
<rect x="105.7" y="515.0" width="1" height="1" fill="#777" opacity="0.35"/>
<rect x="110.2" y="616.3" width="1.2" height="1.0" fill="#555" opacity="0.35"/>
<rect x="110.5" y="631.9" width="2.2" height="1.0" fill="#555" opacity="0.72"/>
<rect x="110.2" y="552.2" width="1" height="1" fill="#777" opacity="0.35"/>
<rect x="112.5" y="616.3" width="0.9" height="1.0" fill="#555" opacity="0.66"/>
<rect x="117.2" y="565.3" width="1.6" height="1.0" fill="#555" opacity="0.44"/>
<rect x="120.6" y="544.0" width="0.9" height="1.0" fill="#555" opacity="0.61"/>
<rect x="120.0" y="536.2" width="1.6" height="1.0" fill="#555" opacity="0.40"/>
<rect x="124.0" y="523.9" width="1.2" height="1.0" fill="#555" opacity="0.68"/>
<rect x="125.3" y="513.4" width="2.2" height="1.0" fill="#555" opacity="0.55"/>
<rect x="128.9" y="498.5" width="1.6" height="1.0" fill="#555" opacity="0.58"/>
<rect x="129.6" y="548.1" width="1.0" height="1.0" fill="#555" opacity="0.74"/>
<rect x="131.9" y="600.1" width="1.0" height="1.0" fill="#555" opacity="0.67"/>
<rect x="132.4" y="561.7" width="1.6" height="1.0" fill="#555" opacity="0.59"/>
<rect x="136.2" y="537.0" width="0.9" height="1.0" fill="#555" opacity="0.65"/>
<rect x="145.0" y="628.8" width="1.2" height="1.0" fill="#555" opacity="0.49"/>
<rect x="149.4" y="556.6" width="0.9" height="1.0" fill="#555" opacity="0.63"/>
<rect x="148.5" y="669.3" width="1.2" height="1.0" fill="#555" opacity="0.43"/>
<rect x="154.0" y="543.7" width="1.6" height="1.0" fill="#555" opacity="0.57"/>
<rect x="161.1" y="495.3" width="2.2" height="1.0" fill="#555" opacity="0.59"/>
<rect x="161.9" y="651.4" width="1" height="1" fill="#777" opacity="0.35"/>
<rect x="164.7" y="483.2" width="2.2" height="1.0" fill="#555" opacity="0.42"/>
<rect x="164.5" y="480.1" width="1.0" height="1.0" fill="#555" opacity="0.71"/>
<rect x="165.1" y="638.0" width="1" height="1" fill="#777" opacity="0.35"/>
<rect x="169.5" y="471.2" width="1.2" height="1.0" fill="#555" opacity="0.62"/>
<rect x="169.6" y="479.6" width="2.2" height="1.0" fill="#555" opacity="0.49"/>
<rect x="173.4" y="463.8" width="1.0" height="1.0" fill="#555" opacity="0.40"/>
<rect x="174.0" y="489.2" width="1.2" height="1.0" fill="#555" opacity="0.52"/>
<rect x="173.9" y="556.1" width="1" height="1" fill="#777" opacity="0.35"/>
<rect x="179.0" y="502.4" width="1.2" height="1.0" fill="#555" opacity="0.74"/>
<rect x="179.4" y="462.5" width="1.0" height="1.0" fill="#555" opacity="0.38"/>
<rect x="179.9" y="539.2" width="1" height="1" fill="#777" opacity="0.35"/>
<rect x="181.2" y="435.7" width="1.6" height="1.0" fill="#555" opacity="0.43"/>
<rect x="181.5" y="530.5" width="1.2" height="1.0" fill="#555" opacity="0.53"/>
<rect x="184.7" y="468.7" width="1.6" height="1.0" fill="#555" opacity="0.41"/>
<rect x="185.5" y="508.6" width="0.9" height="1.0" fill="#555" opacity="0.36"/>
<rect x="188.5" y="640.0" width="0.9" height="1.0" fill="#555" opacity="0.72"/>
<rect x="189.1" y="585.8" width="1" height="1" fill="#777" opacity="0.35"/>
<rect x="194.7" y="628.7" width="1.2" height="1.0" fill="#555" opacity="0.59"/>
<rect x="195.0" y="607.1" width="1" height="1" fill="#777" opacity="0.35"/>
<rect x="198.4" y="669.3" width="0.9" height="1.0" fill="#555" opacity="0.59"/>
<rect x="198.5" y="522.0" width="1" height="1" fill="#777" opacity="0.35"/>
<rect x="203.3" y="637.7" width="2.2" height="1.0" fill="#555" opacity="0.40"/>
<rect x="203.0" y="581.0" width="1" height="1" fill="#777" opacity="0.35"/>
<rect x="205.5" y="621.7" width="1.6" height="1.0" fill="#555" opacity="0.58"/>
<rect x="209.7" y="644.5" width="1.2" height="1.0" fill="#555" opacity="0.71"/>
<rect x="210.1" y="669.3" width="1.2" height="1.0" fill="#555" opacity="0.51"/>
<rect x="218.1" y="630.2" width="0.9" height="1.0" fill="#555" opacity="0.68"/>
<rect x="217.7" y="649.9" width="1.0" height="1.0" fill="#555" opacity="0.74"/>
<rect x="221.5" y="652.6" width="1.2" height="1.0" fill="#555" opacity="0.49"/>
<rect x="227.3" y="658.7" width="0.9" height="1.0" fill="#555" opacity="0.68"/>
<rect x="227.2" y="664.6" width="1.0" height="1.0" fill="#555" opacity="0.46"/>
<rect x="230.9" y="642.7" width="0.9" height="1.0" fill="#555" opacity="0.66"/>
<rect x="236.0" y="535.9" width="1" height="1" fill="#777" opacity="0.35"/>
<rect x="244.8" y="665.7" width="2.2" height="1.0" fill="#555" opacity="0.72"/>
<path d="M78.00 660.90 C78.87 659.80 85.45 652.00 86.70 649.90 C87.95 647.80 89.81 641.58 90.50 639.90 C91.19 638.22 92.52 632.72 93.60 633.10 C94.67 633.49 99.69 641.76 101.25 643.75 C102.81 645.74 108.22 653.13 109.20 653.00 C110.19 652.87 110.60 645.95 111.10 642.40 C111.60 638.85 113.45 622.74 114.20 617.50 C114.95 612.26 117.64 597.25 118.60 590.00 C119.55 582.75 122.86 550.75 123.75 545.00 C124.64 539.25 126.75 533.88 127.50 532.50 C128.25 531.12 130.23 532.19 131.25 531.25 C132.27 530.31 136.81 519.23 137.70 523.10 C138.58 526.98 139.47 558.31 140.10 570.00 C140.73 581.69 143.38 631.62 144.00 640.00 C144.62 648.38 145.82 653.75 146.25 653.75 C146.68 653.75 147.75 646.38 148.30 640.00 C148.86 633.62 151.31 597.00 151.80 590.00 C152.29 583.00 152.61 578.25 153.20 570.00 C153.79 561.75 157.12 516.50 157.70 507.50 C158.28 498.50 156.62 482.75 159.00 480.00 C161.38 477.25 179.18 477.25 181.50 480.00 C183.82 482.75 181.58 496.50 182.20 507.50 C182.82 518.50 186.79 576.38 187.70 590.00 C188.60 603.62 190.02 639.00 191.25 643.75 C192.48 648.50 198.62 637.12 200.00 637.50 C201.38 637.88 203.62 647.00 205.00 647.50 C206.38 648.00 212.25 641.62 213.75 642.50 C215.25 643.38 218.38 655.25 220.00 656.25 C221.62 657.25 228.00 653.00 230.00 652.50 C232.00 652.00 238.38 650.75 240.00 651.25 C241.62 651.75 245.62 656.88 246.25 657.50" fill="none" stroke="#767676" stroke-width="0.75" stroke-linejoin="round"/>
</g>
<line x1="71.39999999999999" y1="530.5" x2="248.20000000000002" y2="530.5" stroke="#4a90d8" stroke-width="1.2" stroke-dasharray="2.7 1.3"/>
<line x1="70.8" y1="504.7" x2="70.8" y2="672.4" stroke="#231f20" stroke-width="1.2"/>
<line x1="70.2" y1="671.8" x2="248.8" y2="671.8" stroke="#231f20" stroke-width="1.3"/>
<line x1="67.2" y1="508.40000000000003" x2="70.8" y2="508.40000000000003" stroke="#231f20" stroke-width="1.1"/>
<text x="63.699999999999996" y="511.35" font-size="8.3" text-anchor="end" fill="#231f20" stroke="#231f20" stroke-width="0.22">2500</text>
<line x1="67.2" y1="539.86" x2="70.8" y2="539.86" stroke="#231f20" stroke-width="1.1"/>
<text x="63.699999999999996" y="542.8100000000001" font-size="8.3" text-anchor="end" fill="#231f20" stroke="#231f20" stroke-width="0.22">2000</text>
<line x1="67.2" y1="571.32" x2="70.8" y2="571.32" stroke="#231f20" stroke-width="1.1"/>
<text x="63.699999999999996" y="574.2700000000001" font-size="8.3" text-anchor="end" fill="#231f20" stroke="#231f20" stroke-width="0.22">1500</text>
<line x1="67.2" y1="602.7800000000001" x2="70.8" y2="602.7800000000001" stroke="#231f20" stroke-width="1.1"/>
<text x="63.699999999999996" y="605.7300000000001" font-size="8.3" text-anchor="end" fill="#231f20" stroke="#231f20" stroke-width="0.22">1000</text>
<line x1="67.2" y1="634.24" x2="70.8" y2="634.24" stroke="#231f20" stroke-width="1.1"/>
<text x="63.699999999999996" y="637.19" font-size="8.3" text-anchor="end" fill="#231f20" stroke="#231f20" stroke-width="0.22">500</text>
<line x1="67.2" y1="665.7" x2="70.8" y2="665.7" stroke="#231f20" stroke-width="1.1"/>
<text x="63.699999999999996" y="668.6500000000001" font-size="8.3" text-anchor="end" fill="#231f20" stroke="#231f20" stroke-width="0.22">0</text>
<text transform="translate(35.6,650.8) rotate(-90)" font-size="9.5" text-anchor="start" fill="#231f20" textLength="127.6" lengthAdjust="spacingAndGlyphs" stroke="#231f20" stroke-width="0.22">Fragment read count (RPM)</text>
<g clip-path="url(#cp4)">
<path d="M328.30 651.50 C330.05 649.95 340.38 638.97 343.30 638.20 C346.22 637.43 351.36 643.15 353.30 644.90 C355.24 646.65 358.55 654.37 359.90 653.20 C361.25 652.03 364.08 641.28 364.90 634.90 C365.72 628.52 366.40 606.70 366.90 598.50 C367.40 590.30 368.30 569.90 369.20 564.60 C370.10 559.30 373.52 552.38 374.60 553.10 C375.69 553.82 377.06 565.50 378.50 570.80 C379.94 576.10 385.38 593.55 386.90 598.50 C388.42 603.45 390.49 609.29 391.50 613.20 C392.51 617.11 394.82 631.60 395.60 632.00 C396.38 632.40 397.69 618.98 398.20 616.60 C398.71 614.22 399.43 613.71 400.00 611.60 C400.57 609.49 401.84 604.35 403.10 598.50 C404.36 592.65 409.63 572.12 410.80 561.50 C411.97 550.88 412.79 517.01 413.10 507.50 C413.42 497.99 411.41 483.21 413.50 480.00 C415.59 476.79 428.93 476.79 431.00 480.00 C433.07 483.21 430.78 500.79 431.25 507.50 C431.72 514.21 433.98 531.67 435.00 537.50 C436.02 543.33 438.83 553.12 440.00 557.50 C441.17 561.88 443.83 570.92 445.00 575.00 C446.17 579.08 448.69 586.67 450.00 592.50 C451.31 598.33 455.23 618.88 456.25 625.00 C457.27 631.12 457.15 642.08 458.75 645.00 C460.35 647.92 467.52 648.69 470.00 650.00 C472.48 651.31 477.81 655.67 480.00 656.25 C482.19 656.83 487.29 656.17 488.75 655.00 C490.21 653.83 491.77 647.42 492.50 646.25 C493.23 645.08 494.56 643.98 495.00 645.00 C495.44 646.02 495.90 652.96 496.25 655.00 C496.60 657.04 497.80 661.62 498.00 662.50 L498.00 665.00 C497.65 665.15 497.10 666.02 495.00 666.25 C492.90 666.48 482.92 667.00 480.00 667.00 C477.08 667.00 472.62 666.48 470.00 666.25 C467.38 666.02 460.71 665.29 457.50 665.00 C454.29 664.71 444.54 664.33 442.50 663.75 C440.46 663.17 440.88 664.52 440.00 660.00 C439.12 655.48 436.02 632.00 435.00 625.00 C433.98 618.00 431.83 603.64 431.25 600.00 C430.67 596.36 430.95 594.52 430.00 593.80 C429.05 593.08 424.17 594.15 423.10 593.80 C422.03 593.45 421.61 591.69 420.80 590.80 C420.00 589.91 417.03 586.29 416.20 586.20 C415.37 586.11 414.35 587.67 413.70 590.00 C413.05 592.33 411.48 600.09 410.60 606.20 C409.73 612.31 407.59 635.40 406.20 642.40 C404.81 649.40 400.01 663.28 398.70 666.20 C397.39 669.12 396.31 669.44 395.00 667.40 C393.69 665.36 389.06 651.33 387.50 648.70 C385.94 646.08 382.78 646.91 381.60 644.90 C380.42 642.89 378.38 632.87 377.40 631.50 C376.42 630.13 374.26 632.42 373.20 633.20 C372.14 633.98 369.45 635.10 368.30 638.20 C367.15 641.30 364.34 656.59 363.30 659.80 C362.26 663.01 360.57 666.09 359.40 665.70 C358.23 665.32 355.18 658.54 353.30 656.50 C351.42 654.46 345.25 647.82 343.30 648.20 C341.35 648.59 338.35 657.47 336.60 659.80 C334.85 662.13 329.27 667.22 328.30 668.20 Z" fill="#e4e4e4"/>
<rect x="328.1" y="664.4" width="0.9" height="1.0" fill="#555" opacity="0.37"/>
<rect x="327.3" y="659.3" width="0.9" height="1.0" fill="#555" opacity="0.65"/>
<rect x="331.9" y="660.6" width="1.6" height="1.0" fill="#555" opacity="0.36"/>
<rect x="332.3" y="666.2" width="1.6" height="1.0" fill="#555" opacity="0.59"/>
<rect x="332.9" y="572.8" width="1" height="1" fill="#777" opacity="0.35"/>
<rect x="335.0" y="650.2" width="0.9" height="1.0" fill="#555" opacity="0.64"/>
<rect x="339.3" y="647.9" width="1.0" height="1.0" fill="#555" opacity="0.67"/>
<rect x="339.0" y="645.1" width="2.2" height="1.0" fill="#555" opacity="0.45"/>
<rect x="339.2" y="548.8" width="1" height="1" fill="#777" opacity="0.35"/>
<rect x="342.0" y="646.5" width="1.6" height="1.0" fill="#555" opacity="0.72"/>
<rect x="345.1" y="643.4" width="1.2" height="1.0" fill="#555" opacity="0.70"/>
<rect x="345.8" y="640.2" width="1.0" height="1.0" fill="#555" opacity="0.67"/>
<rect x="349.6" y="643.0" width="2.2" height="1.0" fill="#555" opacity="0.36"/>
<rect x="352.7" y="645.1" width="2.2" height="1.0" fill="#555" opacity="0.41"/>
<rect x="352.1" y="646.7" width="2.2" height="1.0" fill="#555" opacity="0.68"/>
<rect x="354.5" y="658.3" width="1.6" height="1.0" fill="#555" opacity="0.39"/>
<rect x="355.0" y="648.6" width="1.0" height="1.0" fill="#555" opacity="0.68"/>
<rect x="359.3" y="656.2" width="1.2" height="1.0" fill="#555" opacity="0.63"/>
<rect x="364.2" y="669.1" width="1.6" height="1.0" fill="#555" opacity="0.58"/>
<rect x="363.8" y="633.8" width="0.9" height="1.0" fill="#555" opacity="0.42"/>
<rect x="368.1" y="598.1" width="1.2" height="1.0" fill="#555" opacity="0.36"/>
<rect x="367.0" y="624.5" width="0.9" height="1.0" fill="#555" opacity="0.64"/>
<rect x="369.8" y="597.3" width="1.0" height="1.0" fill="#555" opacity="0.42"/>
<rect x="370.0" y="602.2" width="2.2" height="1.0" fill="#555" opacity="0.55"/>
<rect x="370.4" y="649.2" width="1" height="1" fill="#777" opacity="0.35"/>
<rect x="373.1" y="529.4" width="1" height="1" fill="#777" opacity="0.35"/>
<rect x="379.0" y="601.6" width="0.9" height="1.0" fill="#555" opacity="0.49"/>
<rect x="381.1" y="596.1" width="1.6" height="1.0" fill="#555" opacity="0.72"/>
<rect x="381.5" y="597.0" width="0.9" height="1.0" fill="#555" opacity="0.42"/>
<rect x="385.3" y="585.6" width="0.9" height="1.0" fill="#555" opacity="0.43"/>
<rect x="388.7" y="645.6" width="0.9" height="1.0" fill="#555" opacity="0.71"/>
<rect x="393.0" y="638.9" width="0.9" height="1.0" fill="#555" opacity="0.61"/>
<rect x="394.2" y="663.6" width="1" height="1" fill="#777" opacity="0.35"/>
<rect x="397.9" y="642.3" width="0.9" height="1.0" fill="#555" opacity="0.60"/>
<rect x="398.5" y="652.4" width="1.0" height="1.0" fill="#555" opacity="0.68"/>
<rect x="403.6" y="656.5" width="0.9" height="1.0" fill="#555" opacity="0.62"/>
<rect x="403.5" y="593.4" width="1.2" height="1.0" fill="#555" opacity="0.36"/>
<rect x="406.2" y="581.4" width="2.2" height="1.0" fill="#555" opacity="0.58"/>
<rect x="410.9" y="584.4" width="2.2" height="1.0" fill="#555" opacity="0.71"/>
<rect x="412.1" y="560.3" width="0.9" height="1.0" fill="#555" opacity="0.53"/>
<rect x="413.0" y="568.1" width="0.9" height="1.0" fill="#555" opacity="0.46"/>
<rect x="413.1" y="658.1" width="1" height="1" fill="#777" opacity="0.35"/>
<rect x="416.7" y="581.5" width="2.2" height="1.0" fill="#555" opacity="0.68"/>
<rect x="417.5" y="526.2" width="1" height="1" fill="#777" opacity="0.35"/>
<rect x="423.0" y="540.1" width="2.2" height="1.0" fill="#555" opacity="0.69"/>
<rect x="426.8" y="531.1" width="1.0" height="1.0" fill="#555" opacity="0.49"/>
<rect x="425.7" y="538.2" width="1.0" height="1.0" fill="#555" opacity="0.36"/>
<rect x="429.8" y="577.1" width="1.2" height="1.0" fill="#555" opacity="0.60"/>
<rect x="433.4" y="584.6" width="1.6" height="1.0" fill="#555" opacity="0.48"/>
<rect x="435.1" y="617.3" width="1.2" height="1.0" fill="#555" opacity="0.68"/>
<rect x="435.9" y="558.8" width="2.2" height="1.0" fill="#555" opacity="0.72"/>
<rect x="438.7" y="651.2" width="1.2" height="1.0" fill="#555" opacity="0.65"/>
<rect x="442.3" y="645.2" width="1.2" height="1.0" fill="#555" opacity="0.72"/>
<rect x="442.7" y="623.8" width="1.6" height="1.0" fill="#555" opacity="0.67"/>
<rect x="444.5" y="653.8" width="1.2" height="1.0" fill="#555" opacity="0.36"/>
<rect x="444.7" y="669.1" width="0.9" height="1.0" fill="#555" opacity="0.47"/>
<rect x="448.5" y="624.8" width="1" height="1" fill="#777" opacity="0.35"/>
<rect x="453.1" y="646.9" width="1.2" height="1.0" fill="#555" opacity="0.37"/>
<rect x="457.6" y="662.2" width="1.0" height="1.0" fill="#555" opacity="0.56"/>
<rect x="459.9" y="659.2" width="1.0" height="1.0" fill="#555" opacity="0.71"/>
<rect x="462.7" y="542.6" width="1" height="1" fill="#777" opacity="0.35"/>
<rect x="466.5" y="648.7" width="0.9" height="1.0" fill="#555" opacity="0.50"/>
<rect x="469.1" y="663.7" width="2.2" height="1.0" fill="#555" opacity="0.39"/>
<rect x="476.1" y="660.5" width="1.2" height="1.0" fill="#555" opacity="0.74"/>
<rect x="480.6" y="664.9" width="2.2" height="1.0" fill="#555" opacity="0.50"/>
<rect x="479.1" y="663.8" width="1.0" height="1.0" fill="#555" opacity="0.51"/>
<rect x="483.0" y="664.2" width="0.9" height="1.0" fill="#555" opacity="0.37"/>
<rect x="486.3" y="655.3" width="2.2" height="1.0" fill="#555" opacity="0.43"/>
<rect x="486.4" y="655.1" width="1.0" height="1.0" fill="#555" opacity="0.35"/>
<rect x="494.0" y="652.7" width="1.6" height="1.0" fill="#555" opacity="0.52"/>
<rect x="496.7" y="659.4" width="1.2" height="1.0" fill="#555" opacity="0.58"/>
<rect x="496.8" y="660.6" width="1.2" height="1.0" fill="#555" opacity="0.65"/>
<path d="M328.30 666.50 C329.13 665.17 335.10 655.61 336.60 653.20 C338.10 650.79 342.13 643.23 343.30 642.40 C344.47 641.57 347.22 643.99 348.30 644.90 C349.38 645.81 352.99 649.59 354.10 651.50 C355.21 653.41 358.40 663.92 359.40 664.00 C360.40 664.08 363.21 656.38 364.10 652.30 C364.99 648.22 367.55 628.60 368.30 623.20 C369.05 617.80 370.94 602.54 371.60 598.30 C372.26 594.06 374.32 582.55 374.90 580.80 C375.48 579.05 376.82 579.72 377.40 580.80 C377.98 581.88 379.62 588.19 380.70 591.60 C381.78 595.01 387.12 610.41 388.20 614.90 C389.28 619.39 390.72 632.44 391.50 636.50 C392.28 640.56 394.84 656.40 396.00 655.50 C397.16 654.60 401.93 633.10 403.10 627.50 C404.27 621.90 407.01 604.02 407.70 599.50 C408.39 594.98 409.46 586.25 410.00 582.30 C410.54 578.35 412.48 563.23 413.10 560.00 C413.72 556.77 415.43 550.92 416.20 550.00 C416.97 549.08 420.04 550.57 420.80 550.80 C421.56 551.03 422.88 550.63 423.80 552.30 C424.72 553.97 429.13 563.48 430.00 567.50 C430.87 571.52 431.62 586.00 432.50 592.50 C433.38 599.00 437.75 627.00 438.75 632.50 C439.75 638.00 441.25 645.62 442.50 647.50 C443.75 649.38 449.62 650.12 451.25 651.25 C452.88 652.38 457.38 658.62 458.75 658.75 C460.12 658.88 463.75 652.12 465.00 652.50 C466.25 652.88 469.75 661.38 471.25 662.50 C472.75 663.62 478.38 663.88 480.00 663.75 C481.62 663.62 485.75 661.42 487.50 661.25 C489.25 661.08 496.50 661.92 497.50 662.00" fill="none" stroke="#767676" stroke-width="0.75" stroke-linejoin="round"/>
</g>
<line x1="322.5" y1="578.0" x2="498.79999999999995" y2="578.0" stroke="#4a90d8" stroke-width="1.2" stroke-dasharray="2.7 1.3"/>
<line x1="321.9" y1="504.8" x2="321.9" y2="672.2" stroke="#231f20" stroke-width="1.2"/>
<line x1="321.29999999999995" y1="671.6" x2="499.4" y2="671.6" stroke="#231f20" stroke-width="1.3"/>
<line x1="318.29999999999995" y1="508.09999999999997" x2="321.9" y2="508.09999999999997" stroke="#231f20" stroke-width="1.1"/>
<text x="314.79999999999995" y="511.04999999999995" font-size="8.3" text-anchor="end" fill="#231f20" stroke="#231f20" stroke-width="0.22">2500</text>
<line x1="318.29999999999995" y1="539.56" x2="321.9" y2="539.56" stroke="#231f20" stroke-width="1.1"/>
<text x="314.79999999999995" y="542.51" font-size="8.3" text-anchor="end" fill="#231f20" stroke="#231f20" stroke-width="0.22">2000</text>
<line x1="318.29999999999995" y1="571.02" x2="321.9" y2="571.02" stroke="#231f20" stroke-width="1.1"/>
<text x="314.79999999999995" y="573.97" font-size="8.3" text-anchor="end" fill="#231f20" stroke="#231f20" stroke-width="0.22">1500</text>
<line x1="318.29999999999995" y1="602.48" x2="321.9" y2="602.48" stroke="#231f20" stroke-width="1.1"/>
<text x="314.79999999999995" y="605.4300000000001" font-size="8.3" text-anchor="end" fill="#231f20" stroke="#231f20" stroke-width="0.22">1000</text>
<line x1="318.29999999999995" y1="633.9399999999999" x2="321.9" y2="633.9399999999999" stroke="#231f20" stroke-width="1.1"/>
<text x="314.79999999999995" y="636.89" font-size="8.3" text-anchor="end" fill="#231f20" stroke="#231f20" stroke-width="0.22">500</text>
<line x1="318.29999999999995" y1="665.4" x2="321.9" y2="665.4" stroke="#231f20" stroke-width="1.1"/>
<text x="314.79999999999995" y="668.35" font-size="8.3" text-anchor="end" fill="#231f20" stroke="#231f20" stroke-width="0.22">0</text>
<text transform="translate(286.90000000000003,650.8) rotate(-90)" font-size="9.5" text-anchor="start" fill="#231f20" textLength="127.6" lengthAdjust="spacingAndGlyphs" stroke="#231f20" stroke-width="0.22">Fragment read count (RPM)</text>
<path d="M162.6 216.0 C162.6 207.5 156 202.4 147.6 202.4 C141.5 202.4 137 205.5 134.6 209.9" fill="none" stroke="#1f9a5c" stroke-width="1.25"/>
<polygon points="131.2,209.5 136.5,211.9 132.3,216.4" fill="#1f9a5c"/>
<path d="M413.79999999999995 219.6 C413.79999999999995 211.1 407.2 206.0 398.79999999999995 206.0 C392.7 206.0 388.2 209.1 385.79999999999995 213.5" fill="none" stroke="#1f9a5c" stroke-width="1.25"/>
<polygon points="382.4,213.1 387.7,215.5 383.5,220.0" fill="#1f9a5c"/>
<path d="M163.1 480.1 C163.1 471.6 156.5 466.5 148.1 466.5 C142.0 466.5 137.5 469.6 135.1 474.0" fill="none" stroke="#1f9a5c" stroke-width="1.25"/>
<polygon points="131.7,473.6 137.0,476.0 132.8,480.5" fill="#1f9a5c"/>
<path d="M414.1 480.0 C414.1 471.5 407.5 466.4 399.1 466.4 C393.0 466.4 388.5 469.5 386.1 473.9" fill="none" stroke="#1f9a5c" stroke-width="1.25"/>
<polygon points="382.7,473.5 388.0,475.9 383.8,480.4" fill="#1f9a5c"/>
<text x="156.5" y="229.6" font-size="10" text-anchor="start" fill="#231f20" textLength="32.0" lengthAdjust="spacingAndGlyphs" stroke="#231f20" stroke-width="0.22">URE VP</text>
<text x="407.4" y="232.8" font-size="10" text-anchor="start" fill="#231f20" textLength="32.0" lengthAdjust="spacingAndGlyphs" stroke="#231f20" stroke-width="0.22">URE VP</text>
<text x="156.9" y="493.8" font-size="10" text-anchor="start" fill="#231f20" textLength="32.0" lengthAdjust="spacingAndGlyphs" stroke="#231f20" stroke-width="0.22">URE VP</text>
<text x="407.4" y="493.5" font-size="10" text-anchor="start" fill="#231f20" textLength="32.0" lengthAdjust="spacingAndGlyphs" stroke="#231f20" stroke-width="0.22">URE VP</text>
<text x="70" y="420.3" font-size="8.6" text-anchor="start" fill="#231f20" textLength="65.8" lengthAdjust="spacingAndGlyphs" stroke="#231f20" stroke-width="0.22">chr11:47,375,000</text>
<text x="321.2" y="420.1" font-size="8.6" text-anchor="start" fill="#231f20" textLength="65.8" lengthAdjust="spacingAndGlyphs" stroke="#231f20" stroke-width="0.22">chr11:47,375,000</text>
<text x="70" y="684.3" font-size="8.6" text-anchor="start" fill="#231f20" textLength="65.8" lengthAdjust="spacingAndGlyphs" stroke="#231f20" stroke-width="0.22">chr11:47,375,000</text>
<text x="321.2" y="683.8" font-size="8.6" text-anchor="start" fill="#231f20" textLength="65.8" lengthAdjust="spacingAndGlyphs" stroke="#231f20" stroke-width="0.22">chr11:47,375,000</text>
<text x="186.9" y="420.3" font-size="8.6" text-anchor="start" fill="#231f20" textLength="65.6" lengthAdjust="spacingAndGlyphs" stroke="#231f20" stroke-width="0.22">chr11:47,450,000</text>
<text x="437.9" y="420.2" font-size="8.6" text-anchor="start" fill="#231f20" textLength="65.6" lengthAdjust="spacingAndGlyphs" stroke="#231f20" stroke-width="0.22">chr11:47,450,000</text>
<text x="186.9" y="684.3" font-size="8.6" text-anchor="start" fill="#231f20" textLength="65.6" lengthAdjust="spacingAndGlyphs" stroke="#231f20" stroke-width="0.22">chr11:47,450,000</text>
<text x="437.9" y="683.8" font-size="8.6" text-anchor="start" fill="#231f20" textLength="65.6" lengthAdjust="spacingAndGlyphs" stroke="#231f20" stroke-width="0.22">chr11:47,450,000</text>
<polygon points="128.85,431.4 132.75,437.2 124.94999999999999,437.2" fill="#1f9a5c"/>
<polygon points="379.85,431.2 383.75,437.5 375.95000000000005,437.5" fill="#1f9a5c"/>
<polygon points="128.6,693.4 132.5,699.2 124.69999999999999,699.2" fill="#1f9a5c"/>
<polygon points="379.9,693.4 383.79999999999995,699.2 376.0,699.2" fill="#1f9a5c"/>
<text x="124.3" y="449.0" font-size="9.2" text-anchor="start" fill="#231f20" textLength="9.5" lengthAdjust="spacingAndGlyphs" stroke="#231f20" stroke-width="0.22">PP</text>
<text x="374.6" y="449.0" font-size="9.2" text-anchor="start" fill="#231f20" textLength="9.5" lengthAdjust="spacingAndGlyphs" stroke="#231f20" stroke-width="0.22">PP</text>
<text x="123.8" y="710.3" font-size="9.2" text-anchor="start" fill="#231f20" textLength="9.5" lengthAdjust="spacingAndGlyphs" stroke="#231f20" stroke-width="0.22">PP</text>
<text x="374.9" y="710.2" font-size="9.2" text-anchor="start" fill="#231f20" textLength="9.5" lengthAdjust="spacingAndGlyphs" stroke="#231f20" stroke-width="0.22">PP</text>
<text transform="translate(258.5,324.2) rotate(-90)" font-size="8.6" text-anchor="start" fill="#231f20" textLength="30.3" lengthAdjust="spacingAndGlyphs" stroke="#231f20" stroke-width="0.22">SC4 12 h</text>
<text transform="translate(509.9,352.1) rotate(-90)" font-size="8.6" text-anchor="start" fill="#231f20" textLength="62.3" lengthAdjust="spacingAndGlyphs" stroke="#231f20" stroke-width="0.22">shLDB1 kd #a 12 h</text>
<text transform="translate(259.2,602.5) rotate(-90)" font-size="8.6" text-anchor="start" fill="#231f20" textLength="31.2" lengthAdjust="spacingAndGlyphs" stroke="#231f20" stroke-width="0.22">SC4 72 h</text>
<text transform="translate(510.3,618.8) rotate(-90)" font-size="8.6" text-anchor="start" fill="#231f20" textLength="63.8" lengthAdjust="spacingAndGlyphs" stroke="#231f20" stroke-width="0.22">shLDB1 kd#a 72 h</text></svg>
</body></html>
